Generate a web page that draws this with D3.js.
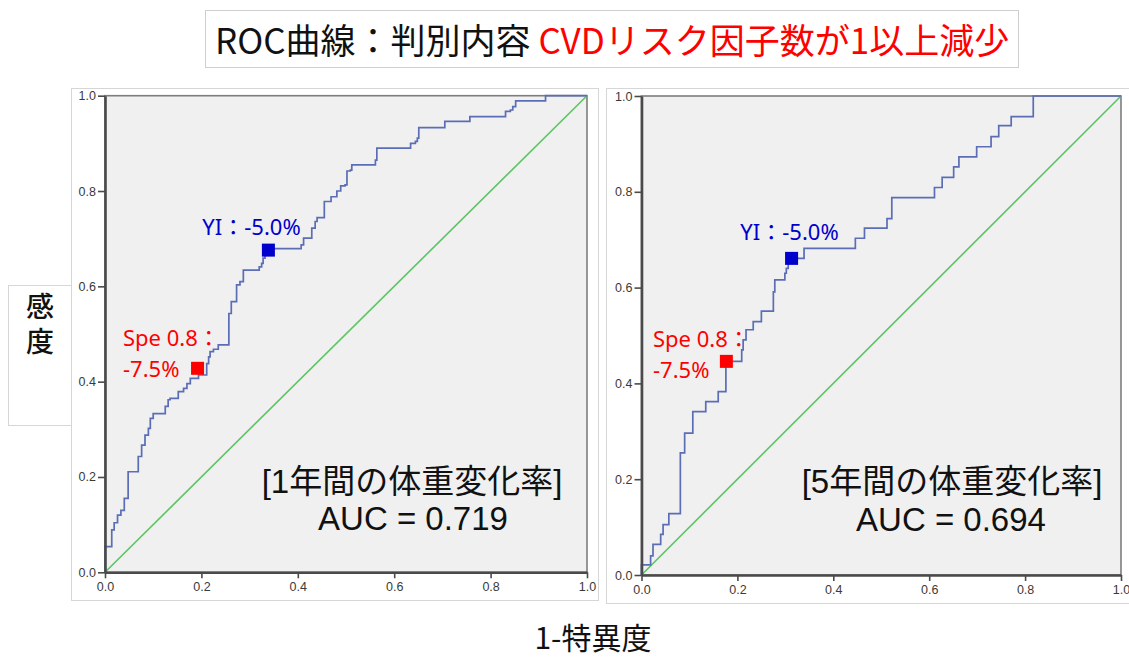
<!DOCTYPE html>
<html>
<head>
<meta charset="utf-8">
<script src="https://cdn.jsdelivr.net/npm/d3@7"></script>
<style>
  body { margin: 0; background: #ffffff; }
  svg { display: block; }
</style>
</head>
<body>
<svg id="chart" width="1129" height="659"></svg>
<script>
// ROC step corners (1 - specificity, sensitivity): 1-year weight change
const fpr1 = [0, 0, 0.014, 0.019, 0.026, 0.033, 0.040, 0.048, 0.069, 0.076, 0.083, 0.090, 0.094, 0.100,
  0.125, 0.131, 0.135, 0.152, 0.163, 0.170, 0.177, 0.194, 0.211, 0.215, 0.218, 0.225, 0.235, 0.257,
  0.262, 0.273, 0.280, 0.287, 0.320, 0.325, 0.328, 0.332, 0.339, 0.407, 0.412, 0.429, 0.436, 0.440,
  0.455, 0.469, 0.481, 0.489, 0.498, 0.502, 0.509, 0.512, 0.561, 0.564, 0.634, 0.644, 0.648, 0.651,
  0.705, 0.757, 0.831, 0.841, 0.846, 0.852, 0.914, 1.0];
const tpr1 = [0, 0.054, 0.089, 0.104, 0.120, 0.130, 0.155, 0.211, 0.243, 0.267, 0.288, 0.302, 0.323, 0.333,
  0.348, 0.362, 0.365, 0.379, 0.386, 0.396, 0.407, 0.414, 0.438, 0.452, 0.463, 0.468, 0.477, 0.543,
  0.568, 0.603, 0.610, 0.634, 0.641, 0.648, 0.659, 0.670, 0.679, 0.687, 0.701, 0.722, 0.736, 0.744,
  0.778, 0.788, 0.800, 0.811, 0.813, 0.842, 0.844, 0.855, 0.865, 0.890, 0.900, 0.904, 0.911, 0.933,
  0.946, 0.956, 0.967, 0.970, 0.977, 0.989, 1.0, 1.0];

// ROC step corners: 5-year weight change
const fpr5 = [0, 0, 0.019, 0.024, 0.040, 0.045, 0.057, 0.081, 0.090, 0.107, 0.134, 0.160, 0.176, 0.209,
  0.212, 0.218, 0.233, 0.250, 0.275, 0.278, 0.299, 0.302, 0.306, 0.313, 0.339, 0.446, 0.465, 0.512,
  0.522, 0.611, 0.627, 0.651, 0.662, 0.699, 0.729, 0.745, 0.771, 0.817, 1.0];
const tpr5 = [0, 0.021, 0.040, 0.064, 0.085, 0.105, 0.128, 0.255, 0.296, 0.341, 0.362, 0.383, 0.446, 0.470,
  0.491, 0.512, 0.529, 0.551, 0.591, 0.616, 0.630, 0.640, 0.651, 0.661, 0.682, 0.703, 0.724, 0.744,
  0.788, 0.809, 0.830, 0.852, 0.873, 0.894, 0.915, 0.938, 0.957, 1.0, 1.0];

const tickValues = [0, 0.2, 0.4, 0.6, 0.8, 1.0];
const panelTitles = ["[1年間の体重変化率]", "[5年間の体重変化率]"];
const aucValues = [0.719, 0.694];
// cut-off points marked on each curve: [1 - specificity, sensitivity]
const speCutoffs = [[0.192, 0.428], [0.177, 0.446]];
const yiCutoffs = [[0.339, 0.676], [0.313, 0.661]];
const speLabelLines = ["Spe 0.8：", "-7.5%"];
const yiLabelText = "YI：-5.0%";
const titleBlack = "ROC曲線：判別内容 ";
const titleRed = "CVDリスク因子数が1以上減少";
const yAxisLabel = "感度";
const xAxisLabel = "1-特異度";

// layout of the two panels (pixels)
const layout = [
  { frame: [71, 88, 598, 600], x: [105, 587], y: [572.3, 95.7],
    spe: { x: 123, y1: 346, y2: 376.5 }, yi: { x: 251.5, y: 235 },
    title: { x: 412, y: 493 }, auc: { x: 413, y: 530 } },
  { frame: [606, 88, 1129, 603], x: [641.5, 1121], y: [575, 96],
    spe: { x: 653, y1: 347, y2: 378 }, yi: { x: 789.5, y: 240 },
    title: { x: 952, y: 493 }, auc: { x: 951, y: 531 } }
];

const curves = [
  fpr1.map((v, i) => [v, tpr1[i]]),
  fpr5.map((v, i) => [v, tpr5[i]])
];

const svg = d3.select("#chart");
const latin = "'Liberation Sans', 'Noto Sans CJK JP', sans-serif";
const cjk = "'Noto Sans CJK JP', 'Noto Sans', sans-serif";
const note = "'Noto Sans', 'Noto Sans CJK JP', sans-serif";

// title box
svg.append("rect")
  .attr("x", 205.5).attr("y", 10.5).attr("width", 813).attr("height", 57)
  .attr("fill", "#fff").attr("stroke", "#cfcfcf").attr("stroke-width", 1);
const title = svg.append("text")
  .attr("x", 215).attr("y", 54)
  .attr("font-family", cjk).attr("font-size", 35);
title.append("tspan").attr("fill", "#111").text(titleBlack);
title.append("tspan").attr("fill", "#ff0000").text(titleRed);

// y-axis label box
svg.append("rect")
  .attr("x", 8.5).attr("y", 285.5).attr("width", 70).attr("height", 140)
  .attr("fill", "#fff").attr("stroke", "#d6d6d6").attr("stroke-width", 1);
svg.append("text")
  .attr("x", 40).attr("y", 292)
  .attr("writing-mode", "vertical-rl")
  .attr("letter-spacing", 7)
  .attr("font-family", cjk).attr("font-size", 28).attr("font-weight", 500)
  .attr("fill", "#111").text(yAxisLabel);

layout.forEach((L, p) => {
  const g = svg.append("g");
  const [fx0, fy0, fx1, fy1] = L.frame;
  g.append("rect")
    .attr("x", fx0 + 0.5).attr("y", fy0 + 0.5)
    .attr("width", fx1 - fx0).attr("height", fy1 - fy0)
    .attr("fill", "#fff").attr("stroke", "#d6d6d6").attr("stroke-width", 1);

  const xs = d3.scaleLinear().domain([0, 1]).range(L.x);
  const ys = d3.scaleLinear().domain([0, 1]).range(L.y);

  // plot area
  g.append("rect")
    .attr("x", L.x[0]).attr("y", L.y[1])
    .attr("width", L.x[1] - L.x[0]).attr("height", L.y[0] - L.y[1])
    .attr("fill", "#f0f0f0")
    .attr("stroke", "#7d7d7d").attr("stroke-width", 1.6);

  // reference diagonal
  g.append("line")
    .attr("x1", xs(0)).attr("y1", ys(0)).attr("x2", xs(1)).attr("y2", ys(1))
    .attr("stroke", "#5cc462").attr("stroke-width", 1.6);

  // ROC curve
  const line = d3.line().x(d => xs(d[0])).y(d => ys(d[1])).curve(d3.curveStepAfter);
  g.append("path")
    .datum(curves[p])
    .attr("d", line)
    .attr("fill", "none")
    .attr("stroke", "#5a6db5").attr("stroke-width", 1.7)
    .attr("stroke-linejoin", "miter");

  // axes
  const xAxis = d3.axisBottom(xs).tickValues(tickValues).tickFormat(d3.format(".1f"))
    .tickSize(6).tickSizeOuter(0).tickPadding(4);
  const yAxis = d3.axisLeft(ys).tickValues(tickValues).tickFormat(d3.format(".1f"))
    .tickSize(7).tickSizeOuter(0).tickPadding(2);
  const gx = g.append("g").attr("transform", `translate(0,${L.y[0]})`).call(xAxis);
  const gy = g.append("g").attr("transform", `translate(${L.x[0]},0)`).call(yAxis);
  [gx, gy].forEach(a => {
    a.select(".domain").attr("stroke", "#4a4a4a").attr("stroke-width", 2.6);
    a.selectAll(".tick line").attr("stroke", "#4a4a4a").attr("stroke-width", 1.6);
    a.selectAll(".tick text")
      .attr("font-family", latin).attr("font-size", 12.5).attr("fill", "#3a3a3a");
  });

  // cut-off markers
  const ms = 13;
  g.append("rect")
    .attr("x", xs(speCutoffs[p][0]) - ms / 2).attr("y", ys(speCutoffs[p][1]) - ms / 2)
    .attr("width", ms).attr("height", ms).attr("fill", "#ff0000");
  g.append("rect")
    .attr("x", xs(yiCutoffs[p][0]) - ms / 2).attr("y", ys(yiCutoffs[p][1]) - ms / 2)
    .attr("width", ms).attr("height", ms).attr("fill", "#0000cc");

  // annotations
  g.append("text").attr("x", L.spe.x).attr("y", L.spe.y1)
    .attr("font-family", note).attr("font-size", 22).attr("fill", "#ff0000")
    .text(speLabelLines[0]);
  g.append("text").attr("x", L.spe.x).attr("y", L.spe.y2)
    .attr("font-family", note).attr("font-size", 22).attr("fill", "#ff0000")
    .text(speLabelLines[1]);
  g.append("text").attr("x", L.yi.x).attr("y", L.yi.y)
    .attr("text-anchor", "middle")
    .attr("font-family", note).attr("font-size", 22).attr("fill", "#0000cc")
    .text(yiLabelText);

  g.append("text").attr("x", L.title.x).attr("y", L.title.y)
    .attr("text-anchor", "middle")
    .attr("font-family", latin).attr("font-size", 33).attr("fill", "#111")
    .text(panelTitles[p]);
  g.append("text").attr("x", L.auc.x).attr("y", L.auc.y)
    .attr("text-anchor", "middle")
    .attr("font-family", latin).attr("font-size", 33).attr("fill", "#111")
    .text("AUC = " + d3.format(".3f")(aucValues[p]));
});

// shared x-axis label
svg.append("text")
  .attr("x", 593).attr("y", 649)
  .attr("text-anchor", "middle")
  .attr("font-family", cjk).attr("font-size", 30).attr("fill", "#111")
  .text(xAxisLabel);
</script>
</body>
</html>
